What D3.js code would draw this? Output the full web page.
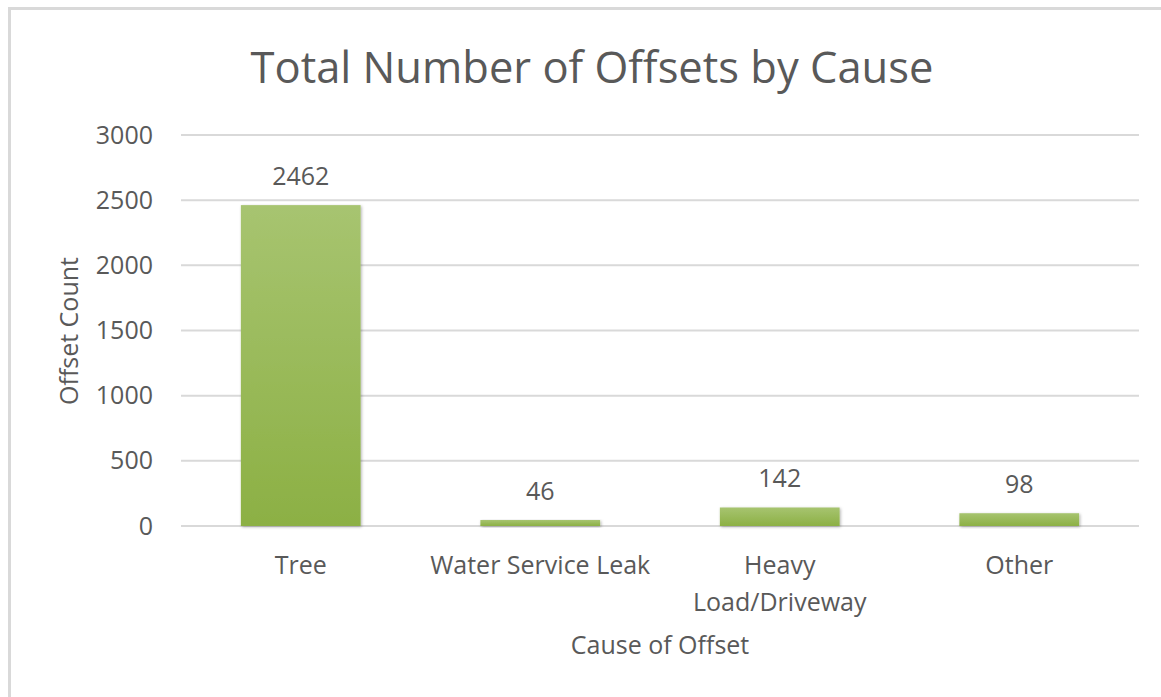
<!DOCTYPE html>
<html>
<head>
  <script src="https://d3js.org/d3.v7.min.js"></script>
  <style>
    body { margin: 0; background: #fff; }
    text { font-family: "Open Sans", sans-serif; fill: #595959; }
  </style>
</head>
<body>
<div id="chart"></div>
<script>
  // data
  var causes = ["Tree", "Water Service Leak", "Heavy Load/Driveway", "Other"];
  var causeLines = [["Tree"], ["Water Service Leak"], ["Heavy", "Load/Driveway"], ["Other"]];
  var offsetCounts = [2462, 46, 142, 98];
  var yTicks = [0, 500, 1000, 1500, 2000, 2500, 3000];

  var W = 1161, H = 697;
  var margin = { top: 135, right: 22, bottom: 171, left: 181 },
      width = W - margin.left - margin.right,
      height = H - margin.top - margin.bottom;

  var svg = d3.select("#chart").append("svg")
    .attr("width", W)
    .attr("height", H);

  // outer chart frame
  svg.append("rect")
    .attr("x", 9.5).attr("y", 8.5)
    .attr("width", W + 20).attr("height", H + 20)
    .attr("fill", "none")
    .attr("stroke", "#d9d9d9")
    .attr("stroke-width", 3);

  var defs = svg.append("defs");
  var grad = defs.append("linearGradient")
    .attr("id", "barGrad")
    .attr("x1", 0).attr("y1", 0).attr("x2", 0).attr("y2", 1);
  grad.append("stop").attr("offset", "0%").attr("stop-color", "#a7c470");
  grad.append("stop").attr("offset", "100%").attr("stop-color", "#8cb044");

  var shadow = defs.append("filter").attr("id", "shadow")
    .attr("x", "-10%").attr("y", "-10%").attr("width", "130%").attr("height", "130%");
  shadow.append("feDropShadow")
    .attr("dx", 1).attr("dy", 1).attr("stdDeviation", 1.5)
    .attr("flood-color", "#000").attr("flood-opacity", 0.3);

  // title
  svg.append("text")
    .attr("x", 592)
    .attr("y", 66)
    .attr("text-anchor", "middle")
    .attr("dominant-baseline", "central")
    .style("font-size", "43.5px")
    .text("Total Number of Offsets by Cause");

  var g = svg.append("g")
    .attr("transform", "translate(" + margin.left + "," + margin.top + ")");

  var x = d3.scaleBand()
    .domain(causes)
    .range([0, width])
    .paddingInner(0.5)
    .paddingOuter(0.25);

  var y = d3.scaleLinear()
    .domain([0, 3000])
    .range([height, 0]);

  // gridlines
  g.append("g")
    .selectAll("line")
    .data(yTicks)
    .join("line")
    .attr("x1", 0)
    .attr("x2", width)
    .attr("y1", d => y(d))
    .attr("y2", d => y(d))
    .attr("stroke", "#d9d9d9")
    .attr("stroke-width", 2);

  // y axis labels
  var yAxis = g.append("g")
    .call(d3.axisLeft(y).tickValues(yTicks).tickFormat(d3.format("d")).tickSize(0).tickPadding(28));
  yAxis.select(".domain").remove();
  yAxis.selectAll("text")
    .style("font-size", "25px")
    .style("fill", "#595959");

  // bars
  g.append("g")
    .selectAll("rect")
    .data(offsetCounts)
    .join("rect")
    .attr("x", (d, i) => x(causes[i]))
    .attr("y", d => y(d))
    .attr("width", x.bandwidth())
    .attr("height", d => height - y(d))
    .attr("fill", "url(#barGrad)")
    .attr("filter", "url(#shadow)");

  // data labels
  g.append("g")
    .selectAll("text")
    .data(offsetCounts)
    .join("text")
    .attr("x", (d, i) => x(causes[i]) + x.bandwidth() / 2)
    .attr("y", d => y(d) - 30)
    .attr("text-anchor", "middle")
    .attr("dominant-baseline", "central")
    .style("font-size", "25px")
    .text(d => d);

  // category labels
  var catG = g.append("g")
    .selectAll("text")
    .data(causeLines)
    .join("text")
    .attr("text-anchor", "middle")
    .style("font-size", "25px")
    .attr("transform", (d, i) => "translate(" + (x(causes[i]) + x.bandwidth() / 2) + "," + (height + 38) + ")");
  catG.selectAll("tspan")
    .data(d => d)
    .join("tspan")
    .attr("x", 0)
    .attr("y", (d, j) => j * 37)
    .attr("dominant-baseline", "central")
    .text(d => d);

  // axis titles
  g.append("text")
    .attr("x", width / 2)
    .attr("y", height + 118)
    .attr("text-anchor", "middle")
    .attr("dominant-baseline", "central")
    .style("font-size", "25px")
    .text("Cause of Offset");

  g.append("text")
    .attr("transform", "translate(" + (68 - margin.left) + "," + (331 - margin.top) + ") rotate(-90)")
    .attr("text-anchor", "middle")
    .attr("dominant-baseline", "central")
    .style("font-size", "25px")
    .text("Offset Count");
</script>
</body>
</html>
